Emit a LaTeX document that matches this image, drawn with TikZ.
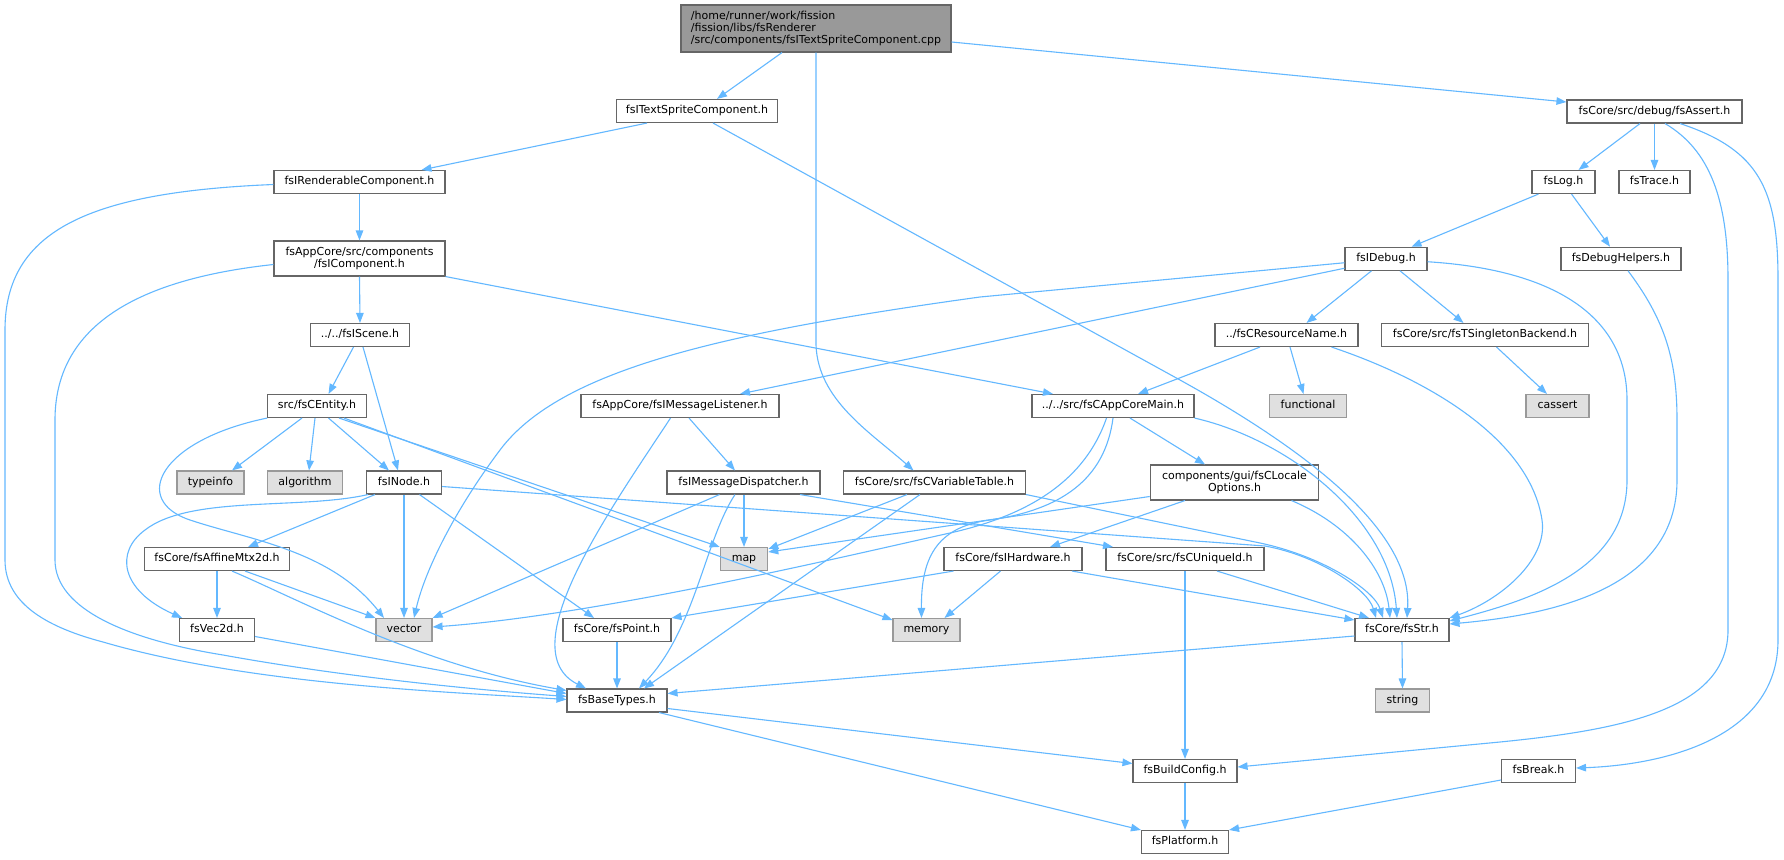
\documentclass[tikz,border=0pt]{standalone}
\usepackage{fontspec}
\setmainfont{DejaVu Sans}
\usetikzlibrary{arrows.meta}
\definecolor{edgecol}{HTML}{63B8FF}
\definecolor{boxborder}{HTML}{666666}
\definecolor{sysborder}{HTML}{999999}
\definecolor{sysfill}{HTML}{E0E0E0}
\definecolor{mainfill}{HTML}{999999}
\newcommand\nodefont{\fontsize{11}{12.2}\selectfont}
\tikzset{
  nbox/.style={draw=boxborder, fill=white, line width=1.1pt, minimum height=23pt, inner sep=0pt,
    font=\nodefont, text height=8.2pt, text depth=2.3pt},
  nboxtwo/.style={draw=boxborder, fill=white, line width=1.1pt, minimum height=35pt, inner sep=0pt,
    font=\nodefont, align=center},
  sysbox/.style={nbox, draw=sysborder, fill=sysfill},
  mainbox/.style={draw=boxborder, fill=mainfill, line width=1.1pt, inner sep=0pt,
    font=\nodefont, align=left},
  conn/.style={draw=edgecol, line width=1.1pt, -{Triangle[length=10pt,width=7.5pt]}}
}
\begin{document}
\begin{tikzpicture}[x=1pt,y=-1pt]
\fill[white] (0,0) rectangle (1784,859);
\useasboundingbox (0,0) rectangle (1784,859);

% nodes
\node[mainbox, minimum width=270pt, minimum height=47pt] (main) at (816,28.5) {/home/runner/work/fission\\/fission/libs/fsRenderer\\/src/components/fsITextSpriteComponent.cpp};
\node[nbox, minimum width=161pt] (tsc) at (697,111) {fsITextSpriteComponent.h};
\node[nbox, minimum width=171pt] (rend) at (359.5,182) {fsIRenderableComponent.h};
\node[nboxtwo, minimum width=171pt] (comp) at (359.5,258.5) {fsAppCore/src/components\\/fsIComponent.h};
\node[nbox, minimum width=99pt] (scene) at (360,335) {../../fsIScene.h};
\node[nbox, minimum width=98.5pt] (entity) at (317,406) {src/fsCEntity.h};
\node[sysbox, minimum width=67pt] (typeinfo) at (210.5,482.5) {typeinfo};
\node[sysbox, minimum width=74.5pt] (algorithm) at (305,482.5) {algorithm};
\node[nbox, minimum width=75pt] (inode) at (404,482.5) {fsINode.h};
\node[nbox, minimum width=145.5pt] (affine) at (217,559) {fsCore/fsAffineMtx2d.h};
\node[nbox, minimum width=75pt] (vec2d) at (217,630) {fsVec2d.h};
\node[sysbox, minimum width=56pt] (vector) at (404,630) {vector};
\node[nbox, minimum width=108pt] (point) at (617,630) {fsCore/fsPoint.h};
\node[nbox, minimum width=100pt] (base) at (617,700.5) {fsBaseTypes.h};
\node[nbox, minimum width=198pt] (listener) at (680,406) {fsAppCore/fsIMessageListener.h};
\node[nbox, minimum width=153pt] (dispatcher) at (743.5,482.5) {fsIMessageDispatcher.h};
\node[nbox, minimum width=182pt] (vartable) at (934.5,482.5) {fsCore/src/fsCVariableTable.h};
\node[sysbox, minimum width=47.5pt] (map) at (744,559) {map};
\node[sysbox, minimum width=67pt] (memory) at (926.5,630) {memory};
\node[nbox, minimum width=138pt] (hardware) at (1013,559) {fsCore/fsIHardware.h};
\node[nbox, minimum width=158pt] (uniqueid) at (1185,559) {fsCore/src/fsCUniqueId.h};
\node[nbox, minimum width=104pt] (buildcfg) at (1185,771) {fsBuildConfig.h};
\node[nbox, minimum width=87pt] (platform) at (1185,842) {fsPlatform.h};
\node[nbox, minimum width=162pt] (appmain) at (1113,406) {../../src/fsCAppCoreMain.h};
\node[nboxtwo, minimum width=168.5pt] (locale) at (1234.5,482.5) {components/gui/fsCLocale\\Options.h};
\node[nbox, minimum width=94pt] (str) at (1402,630) {fsCore/fsStr.h};
\node[sysbox, minimum width=53.5pt] (string) at (1402.5,700.5) {string};
\node[nbox, minimum width=82pt] (debug) at (1386,258.75) {fsIDebug.h};
\node[nbox, minimum width=143pt] (resname) at (1286.5,335) {../fsCResourceName.h};
\node[nbox, minimum width=206.5pt] (singleton) at (1485,335) {fsCore/src/fsTSingletonBackend.h};
\node[sysbox, minimum width=77.5pt] (functional) at (1308,406) {functional};
\node[sysbox, minimum width=63pt] (cassert) at (1557.5,406) {cassert};
\node[nbox, minimum width=175pt] (assert) at (1654.5,111.5) {fsCore/src/debug/fsAssert.h};
\node[nbox, minimum width=63pt] (log) at (1563.5,182) {fsLog.h};
\node[nbox, minimum width=71pt] (trace) at (1654.5,182) {fsTrace.h};
\node[nbox, minimum width=120pt] (helpers) at (1621,258.75) {fsDebugHelpers.h};
\node[nbox, minimum width=74pt] (brk) at (1538.5,771) {fsBreak.h};

% edges
\draw[conn] ([xshift=-34pt]main.south) -- ([xshift=20pt]tsc.north);
\draw[conn] (main.south) -- (816,345) .. controls (818,400) and (870,432) .. ([xshift=-21pt]vartable.north);
\draw[conn] ([yshift=-13.5pt]main.east) -- ([yshift=9.5pt]assert.west);

\draw[conn] ([xshift=-50pt]tsc.south) -- ([xshift=62pt]rend.north);
\draw[conn] ([xshift=16pt]tsc.south) -- (1180,380) .. controls (1330,463) and (1412,540) .. ([xshift=5pt]str.north);

\draw[conn] (rend.south) -- (comp.north);
\draw[conn] ([yshift=-2.5pt]rend.west) .. controls (90,192) and (5,230) .. (5,330) -- (5,560) .. controls (5,605) and (50,628) .. (103,642) .. controls (250,685) and (450,692) .. ([yshift=1pt]base.west);

\draw[conn] (comp.south) -- (scene.north);
\draw[conn] ([yshift=-6pt]comp.west) .. controls (130,280) and (55,330) .. (55,420) -- (55,560) .. controls (55,610) and (130,640) .. (223,655) .. controls (350,678) and (480,690) .. ([yshift=4pt]base.west);
\draw[conn] (comp.south east) -- ([xshift=-60pt]appmain.north);

\draw[conn] ([xshift=-6.5pt]scene.south) -- ([xshift=11.5pt]entity.north);
\draw[conn] ([xshift=3pt]scene.south) -- ([xshift=-6pt]inode.north);

\draw[conn] ([xshift=-15pt]entity.south) -- ([xshift=21.5pt]typeinfo.north);
\draw[conn] ([xshift=-2pt]entity.south) -- ([xshift=4pt]algorithm.north);
\draw[conn] ([xshift=11.5pt]entity.south) -- ([xshift=-15pt]inode.north);
\draw[conn] (entity.south west) .. controls (160,440) and (130,500) .. (190,520) .. controls (250,540) and (330,550) .. ([xshift=-20pt]vector.north);
\draw[conn] ([xshift=22pt]entity.south) -- (map.north west);
\draw[conn] ([xshift=27pt]entity.south) -- ([yshift=10pt]memory.west);

\draw[conn] ([xshift=-29pt]inode.south) -- ([xshift=31pt]affine.north);
\draw[conn] ([xshift=-36pt]inode.south) .. controls (300,510) and (190,495) .. (145,530) .. controls (115,552) and (120,590) .. ([xshift=-35pt]vec2d.north);
\draw[conn] (inode.south) -- (vector.north);
\draw[conn] ([xshift=15.5pt]inode.south) -- ([xshift=-23pt]point.north);
\draw[conn] ([yshift=-4pt]inode.east) -- (1265,546) .. controls (1320,556) and (1368,590) .. ([xshift=-26pt]str.north);

\draw[conn] (affine.south) -- (vec2d.north);
\draw[conn] ([xshift=28pt]affine.south) -- (vector.north west);
\draw[conn] ([xshift=15pt]affine.south) .. controls (300,600) and (420,665) .. ([yshift=10pt]base.west);
\draw[conn] ([yshift=-6.5pt]vec2d.east) -- ([yshift=7pt]base.west);
\draw[conn] (point.south) -- (base.north);

\draw[conn] ([xshift=9pt]listener.south) -- ([xshift=-8.5pt]dispatcher.north);
\draw[conn] ([xshift=-9.5pt]listener.south) .. controls (610,510) and (510,650) .. ([xshift=-31pt]base.north);

\draw[conn] ([xshift=0.5pt]dispatcher.south) -- (map.north);
\draw[conn] ([xshift=-24pt]dispatcher.south) -- (vector.north east);
\draw[conn] ([xshift=-8.5pt]dispatcher.south) .. controls (705,540) and (695,630) .. ([xshift=22pt]base.north);
\draw[conn] ([xshift=56.5pt]dispatcher.south) -- ([xshift=-72pt]uniqueid.north);

\draw[conn] ([xshift=-27.5pt]vartable.south) -- ([yshift=10pt]map.east);
\draw[conn] ([xshift=-14.5pt]vartable.south) -- ([xshift=27pt]base.north);
\draw[conn] (vartable.south east) -- (1260,543) .. controls (1322,556) and (1374,590) .. ([xshift=-19pt]str.north);

\draw[conn] ([xshift=17pt]appmain.south) -- ([xshift=-29.5pt]locale.north);
\draw[conn] ([xshift=-6.5pt]appmain.south) .. controls (1085,480) and (1030,515) .. (950,533) .. controls (850,555) and (600,615) .. ([yshift=3pt]vector.east);
\draw[conn] (appmain.south) .. controls (1105,480) and (1060,510) .. (990,520) .. controls (935,527) and (921,560) .. ([xshift=-5pt]memory.north);
\draw[conn] (appmain.south east) .. controls (1290,440) and (1390,520) .. ([xshift=-5pt]str.north);

\draw[conn] ([yshift=-14pt]locale.west) -- ([yshift=7pt]map.east);
\draw[conn] ([xshift=-49.5pt]locale.south) -- ([xshift=37pt]hardware.north);
\draw[conn] ([xshift=57pt]locale.south) .. controls (1350,525) and (1385,570) .. ([xshift=-12pt]str.north);

\draw[conn] ([xshift=-59.5pt]hardware.south) -- (point.north east);
\draw[conn] ([xshift=-12.5pt]hardware.south) -- ([xshift=18pt]memory.north);
\draw[conn] ([xshift=59pt]hardware.south) -- ([yshift=10pt]str.west);

\draw[conn] (uniqueid.south) -- (buildcfg.north);
\draw[conn] ([xshift=32pt]uniqueid.south) -- ([xshift=-33pt]str.north);

\draw[conn] (str.south) -- (string.north);
\draw[conn] ([yshift=-6pt]str.west) -- ([yshift=7pt]base.east);

\draw[conn] ([yshift=-8pt]base.east) -- ([yshift=7.5pt]buildcfg.west);
\draw[conn] ([xshift=42pt]base.south) -- (platform.north west);
\draw[conn] (buildcfg.south) -- (platform.north);
\draw[conn] ([yshift=-9pt]brk.west) -- (platform.north east);

\draw[conn] ([xshift=-14.5pt]assert.south) -- ([xshift=15pt]log.north);
\draw[conn] (assert.south) -- (trace.north);
\draw[conn] ([xshift=10.5pt]assert.south) .. controls (1710,150) and (1728,200) .. (1728,280) -- (1728,630) .. controls (1728,710) and (1620,730) .. (1500,742) -- ([yshift=4pt]buildcfg.east);
\draw[conn] ([xshift=25.5pt]assert.south) .. controls (1760,150) and (1778,190) .. (1778,280) -- (1778,640) .. controls (1778,740) and (1660,765) .. ([yshift=3pt]brk.east);

\draw[conn] ([xshift=-25pt]log.south) -- ([xshift=25.5pt]debug.north);
\draw[conn] ([xshift=8pt]log.south) -- ([xshift=-11pt]helpers.north);
\draw[conn] ([xshift=7pt]helpers.south) .. controls (1665,320) and (1677,360) .. (1677,420) -- (1677,480) .. controls (1677,590) and (1550,615) .. ([yshift=6pt]str.east);

\draw[conn] ([yshift=-3pt]debug.east) .. controls (1560,270) and (1627,320) .. (1627,400) -- (1627,480) .. controls (1627,570) and (1530,600) .. ([yshift=9pt]str.east);
\draw[conn] ([yshift=-4pt]debug.west) -- (980,297) .. controls (720,333) and (560,370) .. (500,450) .. controls (455,510) and (425,570) .. ([xshift=10pt]vector.north);
\draw[conn] ([yshift=-9.5pt]debug.west) -- ([xshift=60pt]listener.north);
\draw[conn] ([xshift=-14.5pt]debug.south) -- ([xshift=20pt]resname.north);
\draw[conn] ([xshift=14pt]debug.south) -- ([xshift=-21.5pt]singleton.north);

\draw[conn] ([xshift=11.5pt]singleton.south) -- ([xshift=-10.5pt]cassert.north);

\draw[conn] ([xshift=-26.5pt]resname.south) -- ([xshift=25pt]appmain.north);
\draw[conn] ([xshift=3.5pt]resname.south) -- ([xshift=-4.5pt]functional.north);
\draw[conn] ([xshift=45pt]resname.south) .. controls (1430,380) and (1530,440) .. (1542,520) .. controls (1548,560) and (1500,600) .. (str.north east);
\end{tikzpicture}
\end{document}
